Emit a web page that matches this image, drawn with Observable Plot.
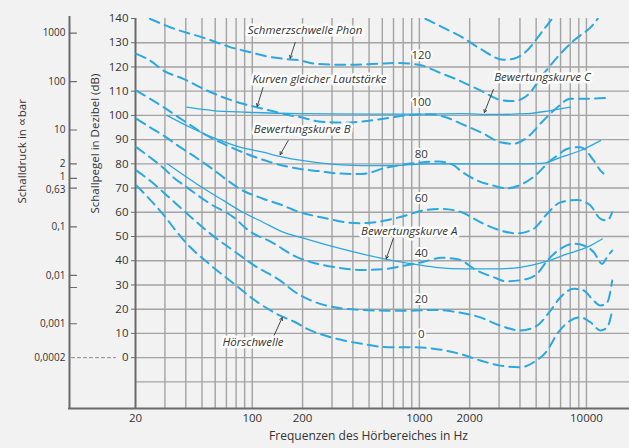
<!DOCTYPE html>
<html><head><meta charset="utf-8">
<script src="https://cdn.jsdelivr.net/npm/d3@7"></script>
<script src="https://cdn.jsdelivr.net/npm/@observablehq/plot@0.6"></script>
<style>
html,body{margin:0;padding:0;background:#f2f2f2;}
#chart{width:629px;height:448px;}
</style></head><body><div id="chart"></div>
<script>
// ---- grid & ticks ----
const gridHz = [30,40,50,60,70,80,90,100,200,300,400,500,600,700,800,900,1000,2000,3000,4000,5000,6000,7000,8000,9000,10000];
const gridDb = [-10,0,10,20,30,40,50,60,70,80,90,100,110,120,130];
const xTicks = [20,50,100,200,500,1000,2000,5000,10000];
const yTicks = [0,10,20,30,40,50,60,70,80,90,100,110,120,130,140];
const pressureValues = [1000,100,10,2,1,0.63,0.1,0.01,0.0056,0.001];
const pressureLabels = ["1000","100","10","2","1","0,63","0,1","0,01","","0,001"];
const pressureRef = 0.0002;
const pressureRefLabel = "0,0002";

// ---- equal loudness contours (Hz, dB) ----
const schmerzHz = [1086,1430,1800,2318,3198,3670,4416,5310,6234];
const schmerzDb = [139.9,135.8,132.3,127.5,123,123.4,126.8,133.7,139.9];
const phon120Hz = [24.4,32.2,53.4,73.7,97,116,153,193,238,360,568,718,904,1038,1304,1642,2318,3056,3670,4416,5550,6986,8400,11070,11700];
const phon120Db = [139.9,136.4,131.6,128.2,126.1,124.7,123.4,122.7,121.3,120.9,121.3,121.6,121.3,120.6,117.8,115.1,110.3,106.4,105.9,108.2,117.2,125.4,130.9,137.8,140];
const phon100Hz = [20.2,24.4,29.4,38.7,53.4,70.4,88.1,106,128,169,193,250,360,500,660,880,1170,1500,1759,2416,3056,3654,4432,5528,6706,8020,10140,13360];
const phon100Db = [125.4,122.7,118.5,115.1,110.3,106.9,104.8,103.4,102,100,99.3,97.5,97,97.8,99,100.2,100.5,98.8,96.7,92.5,88.9,88.3,91,97.9,103.4,106.9,106.9,107.3];
const phon80Hz = [20.2,24.4,29.4,38.7,53.4,70.4,92.7,128,169,193,250,330,450,642,1000,1300,1600,1759,2224,2774,3310,4194,5088,6088,6706,7696,9212,11016,12136,12640];
const phon80Db = [110.3,106.9,103.4,97.9,91.7,87.6,84.1,80.7,78.6,77.9,77,76,75.8,78.5,80.5,81,79.5,77.2,73.1,71,69.9,71.9,76,81.4,83.4,86.2,86.9,81.5,77.2,76];
const phon60Hz = [20.3,24.4,29.4,37,46.5,58,70,84,116,153,181,286,360,453,625,822,1040,1364,1790,2318,3056,3846,4836,5820,6986,8800,10570,12136,13310,14260];
const phon60Db = [98.6,95.1,91.7,86.9,82.4,77.8,73.5,69.7,65.6,62.8,60.7,57.3,55.9,55.5,56.6,58.6,60.7,61.4,60,55.9,52.5,51.3,53.2,59.4,64.1,65.1,62.8,57.3,56.6,60];
const phon40Hz = [20.2,24.4,29.4,33.6,40.6,56,77,95,131,185,226,313,453,625,822,1040,1364,1720,2216,2786,3310,4416,5068,5820,6986,8400,9640,11070,12420,13310,14260];
const phon40Db = [86.9,82.7,78.3,74.5,70.3,63.5,58,52.5,47.6,41.5,39.4,37.3,36.2,36.6,38,39.4,41.2,40.5,35.9,33.2,31.5,32.5,34.6,40,44.9,47,46.3,43.5,38.7,41.6,44.2];
const phon20Hz = [20.3,24.4,30,40.6,56,77,103,147,181,226,310,453,650,903,1245,1700,2318,3056,4028,5068,6088,6986,8400,9640,10820,12136,13310,14260];
const phon20Db = [77.2,73.1,67.7,59.5,51.2,44.2,38,31.8,27,23.5,20.8,19.7,19.4,19.4,19.7,18.7,16.6,13.2,11.2,13.2,19.4,24.9,28.4,27.7,24.2,21.5,22.8,31.8];
const phon0Hz = [20.3,28,40.6,56,77,103,147,181,213,295,453,650,903,1245,1759,2318,3056,4028,4836,5820,6680,8020,9212,10570,12136,13310,14260];
const phon0Db = [71,60.7,47,38.3,30.7,23.8,17.3,14.6,11.9,8.4,5.7,4.3,4.3,3.6,1.5,-1.2,-3.3,-4.0,-1.9,2.9,9.8,15.3,16.6,14.6,11.2,12.5,19.4];

// ---- weighting curves (solid) ----
const curveAHz = [31,46.5,67,88,116,153,193,286,453,625,903,1245,1884,2786,4028,5548,7670,10100,12420];
const curveADb = [80,71.7,64.9,60,55.9,51.8,49.7,46.3,42.8,40.7,38.7,37.3,36.6,36.6,37.3,39.4,42.8,45.6,49];
const curveBHz = [30.8,42.4,61,84.4,116,153,193,286,453,718,1124,1884,3000,4500,5548,6986,9212,12140];
const curveBDb = [100,95.1,90.3,86.9,84.8,82.8,81.5,80,79.3,79.3,80,80,80,80,80.3,82.7,85.5,89.6];
const curveCHz = [40.6,58,93,193,500,1000,1759,2774,4416,6088,8020];
const curveCDb = [103.4,102,101.3,100.7,100.5,100.5,100.7,100.4,100.7,102,103.4];

// ---- annotations ----
const annText = ["Schmerzschwelle Phon","Kurven gleicher Lautstärke","Bewertungskurve B","Bewertungskurve C","Bewertungskurve A","Hörschwelle"];
const annHz = [207,252,199,5454,870,101];
const annDb = [135.1,114.8,94.2,115.7,52,6.2];
const arrowFromHz = [180.6,116,164,2774,698,135];
const arrowFromDb = [130.1,111.5,89.6,110.7,49.2,9.1];
const arrowToHz = [168.6,107,146.8,2450,634,151];
const arrowToDb = [123.6,103.7,83.8,101.2,40.9,16.5];
const phonText = ["120","100","80","60","40","20","0"];
const phonHz = [1027,1027,1027,1027,1027,1027,1027];
const phonDb = [124.7,105.5,83.8,65.7,43.1,24,9.5];

const xTitle = "Frequenzen des Hörbereiches in Hz";
const yTitle = "Schallpegel in Dezibel (dB)";
const pTitle = "Schalldruck in ∝bar";

// ---- build tables ----
const toRows = (name, hz, db) => hz.map((f, i) => ({series: name, f, db: db[i]}));
const dashed = [
  ...toRows("schmerz", schmerzHz, schmerzDb),
  ...toRows("120", phon120Hz, phon120Db),
  ...toRows("100", phon100Hz, phon100Db),
  ...toRows("80", phon80Hz, phon80Db),
  ...toRows("60", phon60Hz, phon60Db),
  ...toRows("40", phon40Hz, phon40Db),
  ...toRows("20", phon20Hz, phon20Db),
  ...toRows("0", phon0Hz, phon0Db)
];
const solid = [
  ...toRows("A", curveAHz, curveADb),
  ...toRows("B", curveBHz, curveBDb),
  ...toRows("C", curveCHz, curveCDb)
];
const ann = annText.map((t, i) => ({t, f: annHz[i], db: annDb[i]}));
const arrows = arrowFromHz.map((f, i) => ({x1: f, y1: arrowFromDb[i], x2: arrowToHz[i], y2: arrowToDb[i]}));
const phons = phonText.map((t, i) => ({t, f: phonHz[i], db: phonDb[i]}));
const toDb = p => 20 * Math.log10(p / pressureRef);
const pressure = pressureValues.map((p, i) => ({db: toDb(p), label: pressureLabels[i]}));
const crowdedUp = pressure.filter(d => d.label === "1");
const crowdedDown = pressure.filter(d => d.label === "0,63");
const pressureOther = pressure.filter(d => d.label !== "1" && d.label !== "0,63");

const blue = "#2aa8e0";
const gridCol = "#a3a3a3";
const axisCol = "#6a6a6a";
const textCol = "#333";
const tickShape = {draw(context, l) { context.moveTo(0, 0); context.lineTo(0, -l); }};
const pLabel = {y: "db", text: "label", frameAnchor: "left", dx: -70, textAnchor: "end", fontSize: 10, fill: textCol};

const chart = Plot.plot({
  width: 629, height: 448,
  marginTop: 18, marginBottom: 40, marginLeft: 135, marginRight: 0,
  style: {fontFamily: "'Open Sans', sans-serif", fontSize: "11px", color: textCol, background: "transparent"},
  x: {type: "log", domain: [20, 18100]},
  y: {domain: [-21, 140]},
  marks: [
    Plot.ruleX(gridHz, {stroke: gridCol, strokeWidth: 1.4}),
    Plot.ruleY(gridDb, {stroke: gridCol, strokeWidth: 1.4}),
    // axis lines
    Plot.ruleX([20], {stroke: axisCol, strokeWidth: 2}),
    Plot.ruleX([20], {stroke: axisCol, strokeWidth: 2, dx: -66, insetTop: -2}),
    Plot.ruleY([-21], {stroke: axisCol, strokeWidth: 2, insetLeft: -67}),
    // main axes
    Plot.axisY(yTicks, {anchor: "left", tickSize: 4, tickPadding: 3, fontSize: 11.5, label: null, stroke: axisCol}),
    Plot.axisX(xTicks, {anchor: "bottom", tickSize: 0, tickPadding: 5, fontSize: 11.5, label: null, tickFormat: d => String(d)}),
    // pressure axis
    Plot.vector(pressure, {y: "db", frameAnchor: "left", dx: -66, rotate: 90, length: 7, anchor: "start", shape: tickShape, stroke: axisCol, strokeWidth: 1.2}),
    Plot.text(pressureOther, pLabel),
    Plot.text(crowdedUp, {...pLabel, dy: -2}),
    Plot.text(crowdedDown, {...pLabel, dy: 2}),
    Plot.vector([0], {y: d => d, frameAnchor: "left", dx: -64, rotate: 90, length: 44, anchor: "start", shape: tickShape, stroke: "#888", strokeWidth: 1, strokeDasharray: "3,3"}),
    Plot.text([pressureRefLabel], {y: [0], text: d => d, frameAnchor: "left", dx: -70, textAnchor: "end", fontSize: 10, fill: textCol}),
    // curves
    Plot.line(solid, {x: "f", y: "db", z: "series", stroke: blue, strokeWidth: 1.3, curve: "monotone-x", clip: true}),
    Plot.line(dashed, {x: "f", y: "db", z: "series", stroke: blue, strokeWidth: 2, strokeDasharray: "10,6", curve: "monotone-x", clip: true}),
    // annotations
    Plot.arrow(arrows, {x1: "x1", y1: "y1", x2: "x2", y2: "y2", stroke: textCol, strokeWidth: 0.9, headLength: 5}),
    Plot.text(ann, {x: "f", y: "db", text: "t", fontStyle: "italic", fontSize: 11.5, fill: textCol, stroke: "white", strokeWidth: 5}),
    Plot.text(phons, {x: "f", y: "db", text: "t", fontSize: 11.5, fill: textCol, stroke: "white", strokeWidth: 4}),
    // titles
    Plot.text([xTitle], {frameAnchor: "bottom", dx: -14, dy: 31, text: d => d, fontSize: 12, fill: textCol}),
    Plot.text([yTitle], {frameAnchor: "left", dx: -40, rotate: -90, text: d => d, fontSize: 11.5, fill: textCol}),
    Plot.text([pTitle], {frameAnchor: "left", dx: -113, dy: -10, rotate: -90, text: d => d, fontSize: 11.5, fill: textCol})
  ]
});
document.getElementById("chart").append(chart);
</script></body></html>
